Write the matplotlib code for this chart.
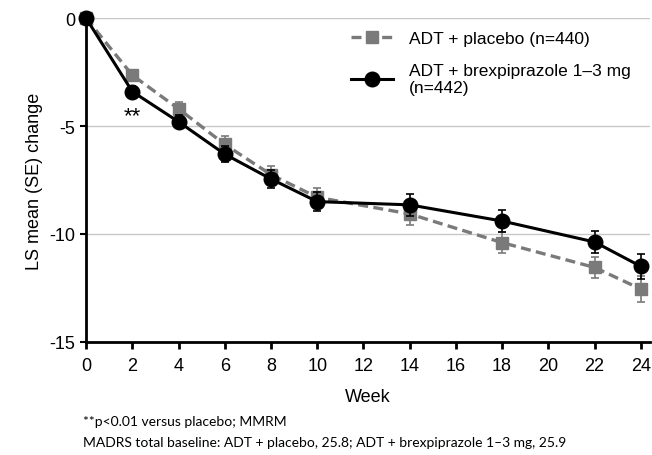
import matplotlib as mpl
mpl.use('Agg')
import matplotlib.pyplot as plt
from matplotlib.lines import Line2D
import numpy as np

plt.rcParams['font.family'] = ['Liberation Sans', 'DejaVu Sans']
plt.rcParams['axes.unicode_minus'] = False

# week and LS mean change from baseline (MADRS)
weeks = [0, 2, 4, 6, 8, 10, 14, 18, 22, 24]
placebo = [0, -2.64, -4.2, -5.85, -7.25, -8.3, -9.07, -10.4, -11.55, -12.55]
placebo_se = [0, 0.25, 0.3, 0.38, 0.42, 0.45, 0.5, 0.5, 0.5, 0.6]
brex = [0, -3.4, -4.8, -6.3, -7.45, -8.5, -8.65, -9.4, -10.37, -11.5]
brex_se = [0, 0.25, 0.3, 0.38, 0.42, 0.45, 0.5, 0.5, 0.5, 0.58]

label_pbo = 'ADT + placebo (n=440)'
label_brex = 'ADT + brexpiprazole 1\u20133 mg\n(n=442)'
footnote1 = '**p<0.01 versus placebo; MMRM'
footnote2 = 'MADRS total baseline: ADT + placebo, 25.8; ADT + brexpiprazole 1\u20133 mg, 25.9'

fig = plt.figure(figsize=(6.52, 4.56), dpi=100)
ax = fig.add_axes([0.132, 0.248, 0.865, 0.71])

gray = '#7a7a7a'
ax.errorbar(weeks, placebo, yerr=placebo_se, color=gray, lw=2.4, ls=(0, (3, 1.6)),
            marker='s', ms=8.5, capsize=3, elinewidth=1.2, capthick=1.2,
            label=label_pbo, clip_on=False, zorder=3)
ax.errorbar(weeks, brex, yerr=brex_se, color='black', lw=2.2,
            marker='o', ms=10.5, capsize=3, elinewidth=1.2, capthick=1.2,
            label=label_brex, clip_on=False, zorder=4)

# significance marker at week 2
ax.text(2, -4.5, '**', ha='center', va='center', fontsize=16)

ax.set_xlim(0, 24.4)
ax.set_ylim(-15, 0)
ax.set_xticks(np.arange(0, 25, 2))
ax.set_yticks([0, -5, -10, -15])
ax.yaxis.grid(True, color='#c8c8c8', lw=1)
ax.set_axisbelow(True)
for s in ['top', 'right']:
    ax.spines[s].set_visible(False)
ax.spines['left'].set_linewidth(2)
ax.spines['bottom'].set_linewidth(2)
ax.tick_params(axis='x', direction='out', length=5, width=2, labelsize=13, pad=6)
ax.tick_params(axis='y', direction='out', length=4, width=1.5, labelsize=13, pad=4)
ax.set_xlabel('Week', fontsize=13, labelpad=10)
ax.set_ylabel('LS mean (SE) change', fontsize=13, labelpad=4)

# legend handles without error bars
h1 = Line2D([], [], color=gray, lw=2.4, ls=(0, (3, 1.6)), marker='s', ms=8.5)
h2 = Line2D([], [], color='black', lw=2.2, marker='o', ms=10.5)
ax.legend([h1, h2], [label_pbo, label_brex], loc='upper left',
          bbox_to_anchor=(0.515, 0.965), bbox_transform=fig.transFigure,
          frameon=False, fontsize=12.5, handlelength=2.4, handletextpad=0.9,
          labelspacing=1.0)

fig.text(0.127, 0.066, footnote1, fontsize=10, family=['Lato', 'DejaVu Sans'])
fig.text(0.127, 0.02, footnote2, fontsize=10, family=['Lato', 'DejaVu Sans'])

fig.savefig('out.png', dpi=100)
